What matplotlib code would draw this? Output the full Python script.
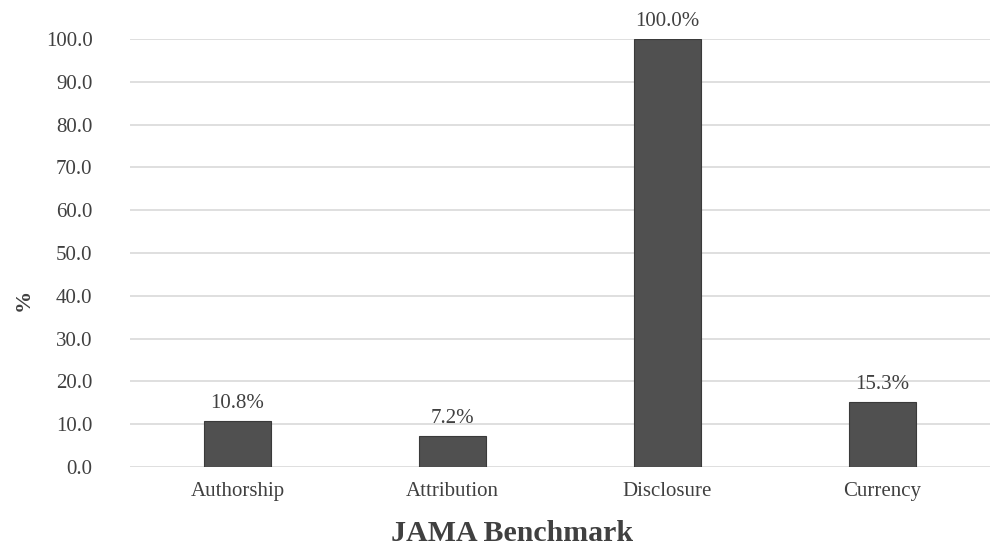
import matplotlib
matplotlib.use("Agg")
import matplotlib.pyplot as plt

categories = ["Authorship", "Attribution", "Disclosure", "Currency"]
values = [10.8, 7.2, 100.0, 15.3]
yticks = [0, 10, 20, 30, 40, 50, 60, 70, 80, 90, 100]

plt.rcParams["font.family"] = ["Liberation Serif", "DejaVu Serif"]

fig = plt.figure(figsize=(9.9, 5.46), dpi=100)
ax = fig.add_axes([130 / 990, 1 - 467 / 546, 860 / 990, 428 / 546])

x = list(range(len(categories)))
ax.bar(x, values, width=0.31, color="#505050", edgecolor="#3a3a3a",
       linewidth=0.8, zorder=3)
for xi, v in zip(x, values):
    ax.text(xi, v + 1.8, f"{v:.1f}%", ha="center", va="bottom",
            fontsize=15, color="#404040")

ax.set_xlim(-0.5, 3.5)
ax.set_ylim(0, 100)
ax.set_yticks(yticks)
ax.set_yticklabels([f"{t:.1f}" for t in yticks], fontsize=15, color="#404040")
ax.set_xticks(x)
ax.set_xticklabels(categories, fontsize=15, color="#404040")
ax.tick_params(axis="both", length=0)
ax.tick_params(axis="y", pad=27)
ax.tick_params(axis="x", pad=11)
ax.grid(axis="y", color="#d9d9d9", linewidth=1.2, zorder=0)
ax.set_axisbelow(True)
for s in ax.spines.values():
    s.set_visible(False)

ax.set_xlabel("JAMA Benchmark", fontsize=21.5, fontweight="bold",
              color="#404040")
ax.xaxis.set_label_coords(0.444, -0.124)
ax.set_ylabel("%", fontsize=16, fontweight="bold", color="#404040")
ax.yaxis.set_label_coords(-0.112, 0.39)

fig.savefig("out.png", dpi=100)
